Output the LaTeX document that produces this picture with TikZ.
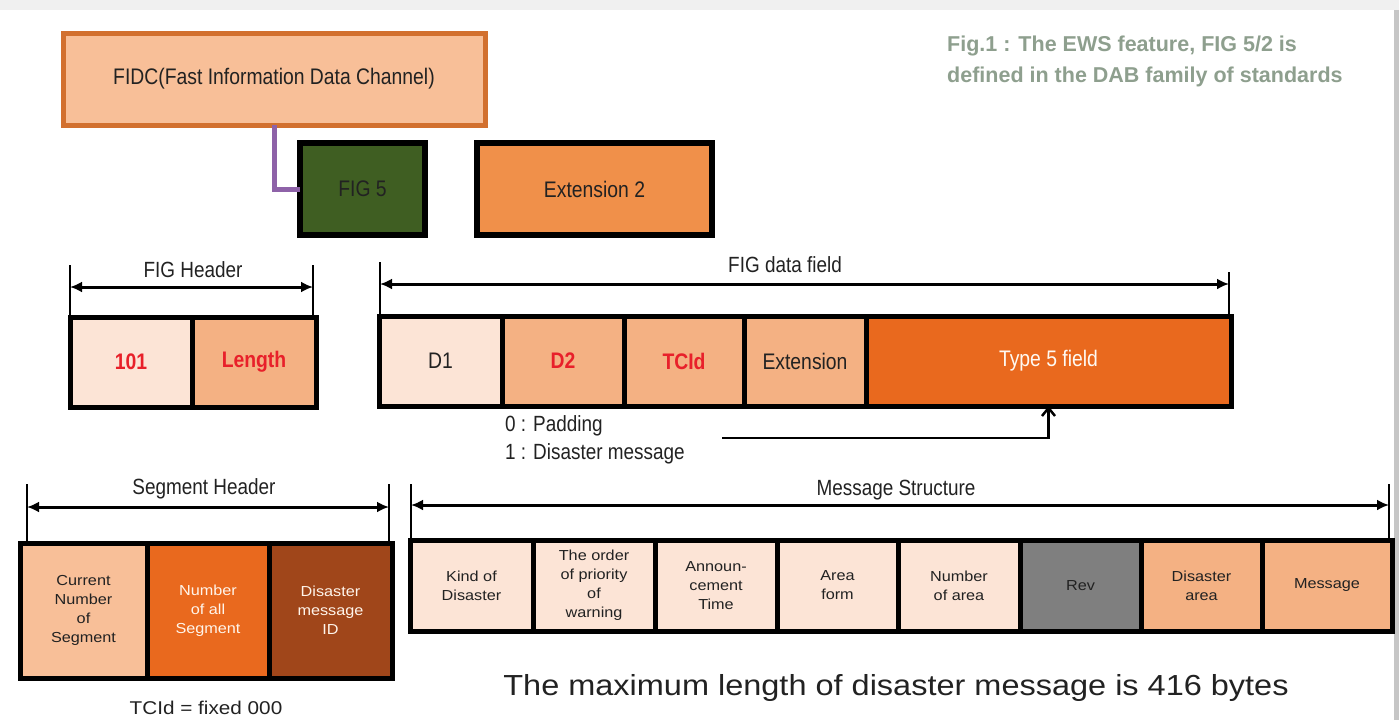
\documentclass[tikz,border=0pt]{standalone}
\usepackage{fontspec}
\setmainfont{Liberation Sans}
\newfontfamily\narrowf[FakeStretch=0.86]{Liberation Sans}
\newfontfamily\widef[FakeStretch=1.12]{Liberation Sans}
\usetikzlibrary{arrows.meta}
\definecolor{fidcfill}{HTML}{F8BF98}
\definecolor{fidcdraw}{HTML}{D2702F}
\definecolor{figgreen}{HTML}{3F5E22}
\definecolor{extfill}{HTML}{F0904A}
\definecolor{lightc}{HTML}{FCE4D6}
\definecolor{salmon}{HTML}{F4B183}
\definecolor{orangec}{HTML}{E9691E}
\definecolor{brownc}{HTML}{A0461A}
\definecolor{revgray}{HTML}{7F7F7F}
\definecolor{capc}{HTML}{8E9F8E}
\definecolor{purplec}{HTML}{8E62A8}
\definecolor{redt}{HTML}{E8202A}
\definecolor{txt}{HTML}{222222}
\tikzset{
  cell/.style={draw=black, line width=5pt, inner sep=0pt, outer sep=0pt, anchor=north west, align=center, text=txt},
  bigtxt/.style={font=\narrowf\fontsize{22.5}{26}\selectfont},
  redtxt/.style={font=\narrowf\bfseries\fontsize{22.5}{26}\selectfont, text=redt},
  smalltxt/.style={font=\widef\fontsize{14.5}{19}\selectfont},
  dimlabel/.style={font=\narrowf\fontsize{22}{24}\selectfont, text=txt},
  tick/.style={line width=2.5pt},
  dimarrow/.style={line width=3pt, {Latex[length=12pt,width=11pt]}-{Latex[length=12pt,width=11pt]}},
}
\begin{document}
\begin{tikzpicture}[x=1pt,y=-1pt]
\useasboundingbox (0,0) rectangle (1399,720);
\fill[gray!12] (0,0) rectangle (1399,720);
\fill[gray!45] (1393,10) rectangle (1399,720);
\fill[white] (0,10) rectangle (1394,720);

% top boxes
\node[cell, draw=fidcdraw, line width=5pt, fill=fidcfill, minimum width=422pt, minimum height=92pt, font=\narrowf\fontsize{22.5}{26}\selectfont] (fidc) at (63,33) {FIDC(Fast Information Data Channel)};
\node[cell, line width=6pt, fill=figgreen, minimum width=125pt, minimum height=92pt, font=\narrowf\fontsize{22.5}{26}\selectfont] (fig5) at (300,143) {FIG 5};
\node[cell, line width=6pt, fill=extfill, minimum width=235pt, minimum height=92pt, font=\narrowf\fontsize{22.5}{26}\selectfont] (ext2) at (477,143) {Extension 2};
\draw[purplec, line width=5pt] (fidc.south) |- (fig5.west);

% caption
\node[anchor=north west, align=left, text=capc, font=\bfseries\fontsize{21.5}{31}\selectfont, inner sep=0pt] (cap) at (947,36) {Fig.1 : The EWS feature, FIG 5/2 is\\defined in the DAB family of standards};

% FIG header
\node[cell, fill=lightc, minimum width=122pt, minimum height=90pt, redtxt] (h101) at (70,317) {101};
\node[cell, fill=salmon, minimum width=124pt, minimum height=90pt, redtxt] (hlen) at (192,317) {Length};
\coordinate (fh1a) at (70,265); \coordinate (fh2a) at (313,265);
\draw[tick] (fh1a) -- (h101.north west);
\draw[tick] (fh2a) -- (fh2a |- hlen.north);
\coordinate (fhl) at (70,287); \coordinate (fhr) at (313,287);
\draw[dimarrow] (fhl) -- (fhr);
\node[dimlabel] (fhlab) at (193,270) {FIG Header};

% FIG data field
\node[cell, fill=lightc, minimum width=123pt, minimum height=90pt, bigtxt] (d1) at (379,316) {D1};
\node[cell, fill=salmon, minimum width=122pt, minimum height=90pt, redtxt] (d2) at (502,316) {D2};
\node[cell, fill=salmon, minimum width=120pt, minimum height=90pt, redtxt] (tcid) at (624,316) {TCId};
\node[cell, fill=salmon, minimum width=122pt, minimum height=90pt, bigtxt] (extn) at (744,316) {Extension};
\node[cell, fill=orangec, minimum width=365pt, minimum height=90pt, bigtxt, text=white!95!orange] (t5) at (866,316) {Type 5 field};
\coordinate (fd1a) at (380,262); \coordinate (fd2a) at (1229,272);
\draw[tick] (fd1a) -- (fd1a |- d1.north);
\draw[tick] (fd2a) -- (fd2a |- t5.north);
\coordinate (fdl) at (380,284); \coordinate (fdr) at (1229,284);
\draw[dimarrow] (fdl) -- (fdr);
\node[dimlabel] (fdlab) at (785,265) {FIG data field};

\node[anchor=west, inner sep=0pt, font=\narrowf\fontsize{22}{26}\selectfont, text=txt] (pad0) at (505,426) {0 : Padding};
\node[anchor=west, inner sep=0pt, font=\narrowf\fontsize{22}{26}\selectfont, text=txt] (pad1) at (505,454) {1 : Disaster message};
\coordinate (pstart) at (722,438);
\draw[line width=2.5pt, -{Straight Barb[length=8pt,width=13pt,line width=2.5pt]}] (pstart) -| (t5.south);

% Segment header
\node[cell, fill=fidcfill, minimum width=127pt, minimum height=135pt, smalltxt] (s1) at (20,543) {Current\\Number\\of\\Segment};
\node[cell, fill=orangec, minimum width=122pt, minimum height=135pt, smalltxt, text=white!92!orange] (s2) at (147,543) {Number\\of all\\Segment};
\node[cell, fill=brownc, minimum width=123pt, minimum height=135pt, smalltxt, text=white!92!orange] (s3) at (269,543) {Disaster\\message\\ID};
\coordinate (sh1a) at (27,484); \coordinate (sh2a) at (389,484);
\draw[tick] (sh1a) -- (sh1a |- s1.north);
\draw[tick] (sh2a) -- (sh2a |- s3.north);
\coordinate (shl) at (27,507); \coordinate (shr) at (389,507);
\draw[dimarrow] (shl) -- (shr);
\node[dimlabel] (shlab) at (204,489) {Segment Header};
\node[font=\widef\fontsize{18.5}{20}\selectfont, text=txt] (tcidf) at (206,708) {TCId = fixed 000};

% Message structure
\node[cell, fill=lightc, minimum width=123pt, minimum height=91pt, smalltxt] (m1) at (410,540) {Kind of\\Disaster};
\node[cell, fill=lightc, minimum width=122pt, minimum height=91pt, smalltxt] (m2) at (533,540) {The order\\of priority\\of\\warning};
\node[cell, fill=lightc, minimum width=122pt, minimum height=91pt, smalltxt] (m3) at (655,540) {Announ-\\cement\\Time};
\node[cell, fill=lightc, minimum width=121pt, minimum height=91pt, smalltxt] (m4) at (777,540) {Area\\form};
\node[cell, fill=lightc, minimum width=122pt, minimum height=91pt, smalltxt] (m5) at (898,540) {Number\\of area};
\node[cell, fill=revgray, minimum width=121pt, minimum height=91pt, smalltxt] (m6) at (1020,540) {Rev};
\node[cell, fill=salmon, minimum width=121pt, minimum height=91pt, smalltxt] (m7) at (1141,540) {Disaster\\area};
\node[cell, fill=salmon, minimum width=130pt, minimum height=91pt, smalltxt] (m8) at (1262,540) {Message};
\coordinate (ms1a) at (411,484); \coordinate (ms2a) at (1389,484);
\draw[tick] (ms1a) -- (ms1a |- m1.north);
\draw[tick] (ms2a) -- (ms2a |- m8.north);
\coordinate (msl) at (411,505); \coordinate (msr) at (1389,505);
\draw[dimarrow] (msl) -- (msr);
\node[dimlabel] (mslab) at (896,490) {Message Structure};

\node[font=\widef\fontsize{29}{34}\selectfont, text=txt] (maxlen) at (896,688) {The maximum length of disaster message is 416 bytes};
\end{tikzpicture}
\end{document}
